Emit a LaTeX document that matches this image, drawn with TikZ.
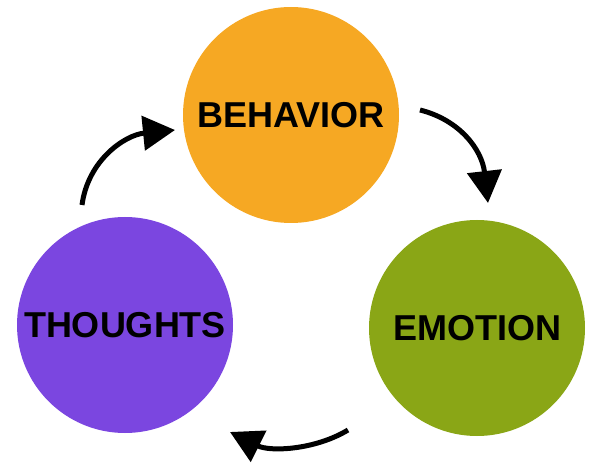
\documentclass[tikz,border=0pt]{standalone}
\usepackage{fontspec}
\setmainfont{Liberation Sans}
\usetikzlibrary{arrows.meta}
\definecolor{behavecol}{HTML}{F6A823}
\definecolor{emotecol}{HTML}{8AA616}
\definecolor{thinkcol}{HTML}{7B46E0}
\begin{document}
\begin{tikzpicture}[x=1pt,y=-1pt,
	bubble/.style={circle, minimum size=216pt, inner sep=0pt, font=\fontsize{36}{36}\selectfont\bfseries},
	cyclearrow/.style={line width=5pt, -{Triangle[length=32pt,width=34pt]}}]
	\useasboundingbox (0,0) rectangle (600,465);
	% Draw the circles
	\node [bubble, fill=behavecol] (behavior) at (291,115) {BEHAVIOR};
	\node [bubble, fill=emotecol] (emotion) at (477,328) {EMOTION};
	\node [bubble, fill=thinkcol] (thoughts) at (125,325) {THOUGHTS};
	% Arrow ends
	\coordinate (a1) at (420,110);
	\coordinate (a2) at (488,203);
	\coordinate (b1) at (348,430);
	\coordinate (b2) at (230,432);
	\coordinate (c1) at (82,205);
	\coordinate (c2) at (175,130);
	% Draw the arrows
	\draw [cyclearrow] (a1) .. controls (460,120) and (482,150) .. (a2);
	\draw [cyclearrow] (b1) .. controls (315,450) and (270,452) .. (b2);
	\draw [cyclearrow] (c1) .. controls (88,160) and (125,135) .. (c2);
\end{tikzpicture}
\end{document}
